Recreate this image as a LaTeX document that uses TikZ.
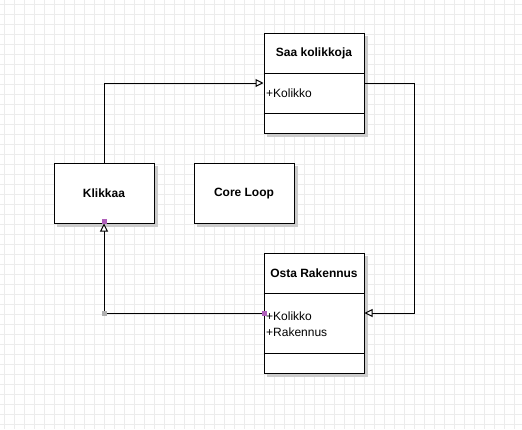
\documentclass[tikz,border=0pt]{standalone}
\usepackage{fontspec}
\setmainfont{Liberation Sans}
\usetikzlibrary{arrows.meta}
\definecolor{gridc}{RGB}{236,236,236}
\definecolor{shadowc}{RGB}{204,204,204}
\definecolor{handle}{RGB}{176,96,186}
\definecolor{handlegray}{RGB}{176,176,176}
\tikzset{
  box/.style={draw=black, line width=1pt, fill=white, rectangle, inner sep=0pt, minimum width=100pt},
  shad/.style={fill=shadowc},
  ttl/.style={font=\fontsize{12}{14}\selectfont\bfseries, inner sep=0pt},
  attr/.style={font=\fontsize{12}{14}\selectfont, inner sep=0pt, anchor=west},
  conn/.style={draw=black, line width=1pt},
  inh/.style={-{Triangle[open, length=8pt, width=8pt, fill=white]}},
}
\begin{document}
\begin{tikzpicture}[x=1pt,y=-1pt]
\useasboundingbox (0,0) rectangle (522,429);
\fill[white] (0,0) rectangle (522,429);
\foreach \i in {0,...,51} \draw[gridc, line width=1pt] (4+10*\i,0) -- (4+10*\i,429);
\foreach \j in {0,...,42} \draw[gridc, line width=1pt] (0,4+10*\j) -- (522,4+10*\j);

% shadows
\fill[shad] (267,36) rectangle (368,137);
\fill[shad] (57,166) rectangle (158,227);
\fill[shad] (197,166) rectangle (298,227);
\fill[shad] (267,256) rectangle (368,377);

% boxes
\node[box, minimum height=100pt] (saa) at (314,83) {};
\node[box, minimum height=60pt] (klik) at (104,193) {};
\node[box, minimum height=60pt] (core) at (244,193) {};
\node[box, minimum height=120pt] (osta) at (314,313) {};

% dividers
\draw[line width=1pt] (saa.west |- 0,73) -- (saa.east |- 0,73);
\draw[line width=1pt] (saa.west |- 0,113) -- (saa.east |- 0,113);
\draw[line width=1pt] (osta.west |- 0,293) -- (osta.east |- 0,293);
\draw[line width=1pt] (osta.west |- 0,353) -- (osta.east |- 0,353);

% texts
\node[ttl] (saat) at (314,53.5) {Saa kolikkoja};
\node[attr] (saaa) at (266,93.5) {+Kolikko};
\node[ttl] (klikt) at (104,193.5) {Klikkaa};
\node[ttl] (coret) at (244,193.5) {Core Loop};
\node[ttl] (ostat) at (314,273.5) {Osta Rakennus};
\node[attr] (ostaa1) at (266,316.5) {+Kolikko};
\node[attr] (ostaa2) at (266,332) {+Rakennus};

% connectors
\coordinate (bend) at (414,83);
\draw[conn, inh] (klik.north) |- (saa.west);
\draw[conn, inh] (saa.east) -- (bend) |- (osta.east);
\draw[conn, inh] (osta.west) -| (klik.south);

% handles
\fill[handle] (101.5,219) rectangle (106.5,224);
\fill[handle] (261.5,310.5) rectangle (266.5,315.5);
\fill[handlegray] (101.5,310.5) rectangle (106.5,315.5);
\end{tikzpicture}
\end{document}
